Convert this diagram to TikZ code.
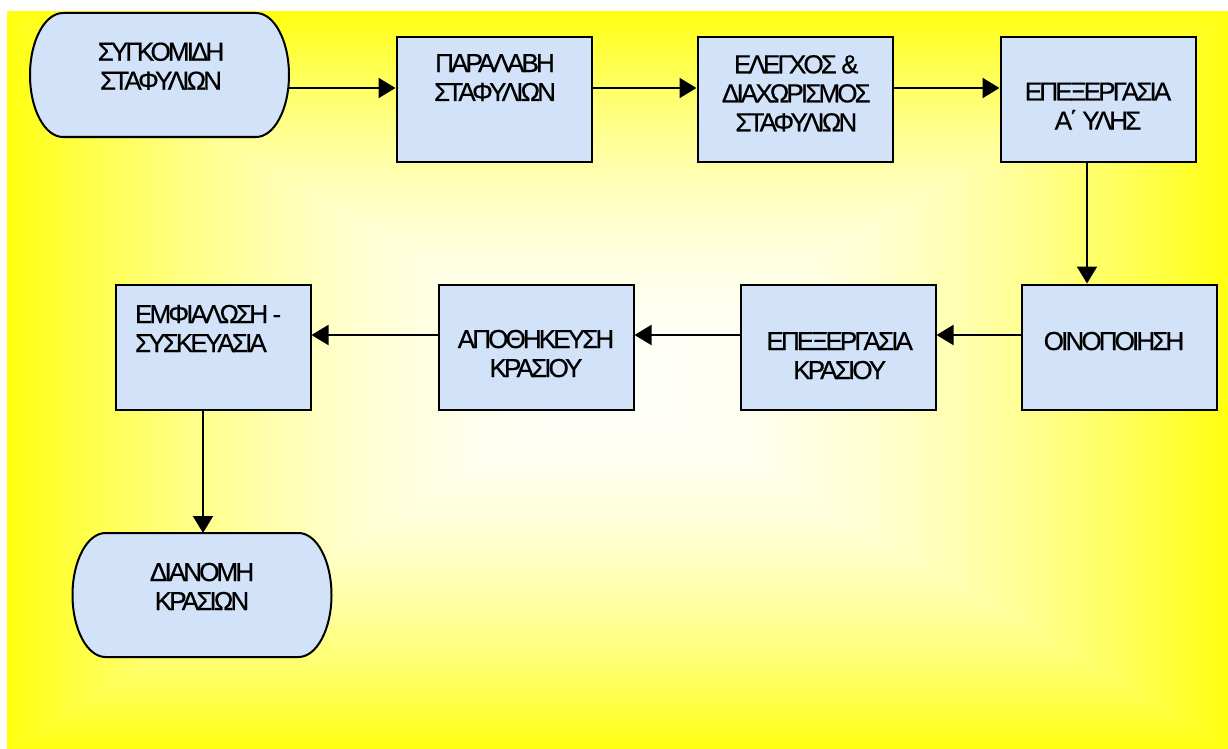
\documentclass[tikz,border=0pt]{standalone}
\usepackage{fontspec}
\newfontfamily\boxfont{Liberation Sans}[LetterSpace=-11,FakeBold=0.6]
\usetikzlibrary{arrows.meta,calc}

\pgfdeclarelayer{bg}
\pgfdeclarelayer{shapes}
\pgfsetlayers{bg,shapes,main}

\definecolor{boxblue}{RGB}{210,227,249}

% pale centre fading to strong yellow at the rectangle's border;
% the filled path covers the inner square -25bp..25bp of the shading
\pgfdeclarefunctionalshading{rectglow}{\pgfpoint{-50bp}{-50bp}}{\pgfpoint{50bp}{50bp}}{}{
  abs exch abs 2 copy lt {exch} if pop
  25 div dup 1 gt {pop 1} if
  dup mul 0.92 mul 0.98 exch sub
  1 1 3 -1 roll
}

% label of a box: #1 alignment (c or l), #2 horizontal shift,
% #3 height of the first baseline above the box centre, #4 lines
\newcommand\boxlabel[4][c]{\makebox[0pt][#1]{\hspace*{#2}\raisebox{#3}[0pt][0pt]{\begin{tabular}[t]{@{}#1@{}}#4\end{tabular}}}}

\begin{document}
\begin{tikzpicture}[x=1pt,y=-1pt,
  boxtext/.style={font=\boxfont\fontsize{26pt}{29pt}\selectfont},
  flowbox/.style={boxtext, draw, line width=2pt, fill=boxblue,
    minimum width=195pt, minimum height=125pt, inner sep=0pt},
  termbox/.style={boxtext, minimum width=259pt, minimum height=124pt,
    inner sep=0pt, outer sep=0pt},
  termline/.style={draw, line width=2pt, fill=boxblue},
  link/.style={line width=2pt, -{Triangle[length=17pt,width=20pt]}}]

\useasboundingbox (0,0) rectangle (1228,749);

\begin{pgfonlayer}{bg}
  \fill[white] (0,0) rectangle (1228,749);
  \shade[shading=rectglow] (7,12) rectangle (1228,749);
\end{pgfonlayer}

% process steps
\node[termbox] (harvest) at (159.5,75)  {\boxlabel{3pt}{14.3pt}{ΣΥΓΚΟΜΙΔΗ\\ΣΤΑΦΥΛΙΩΝ}};
\node[flowbox] (receive) at (494,99.5)  {\boxlabel{2pt}{27.5pt}{ΠΑΡΑΛΑΒΗ\\ΣΤΑΦΥΛΙΩΝ}};
\node[flowbox] (sort)    at (795,99.5)  {\boxlabel{2.6pt}{26.2pt}{ΕΛΕΓΧΟΣ \&\\ΔΙΑΧΩΡΙΣΜΟΣ\\ΣΤΑΦΥΛΙΩΝ}};
\node[flowbox] (prep)    at (1098,99.5) {\boxlabel{0pt}{-1pt}{ΕΠΕΞΕΡΓΑΣΙΑ\\Α΄ ΥΛΗΣ}};
\node[flowbox] (ferment) at (1119.5,347) {\boxlabel{-11pt}{-3pt}{ΟΙΝΟΠΟΙΗΣΗ}};
\node[flowbox] (treat)   at (838,347)   {\boxlabel{3.4pt}{-3pt}{ΕΠΕΞΕΡΓΑΣΙΑ\\ΚΡΑΣΙΟΥ}};
\node[flowbox] (store)   at (536,347)   {\boxlabel{0pt}{-1pt}{ΑΠΟΘΗΚΕΥΣΗ\\ΚΡΑΣΙΟΥ}};
\node[flowbox] (bottle)  at (213,347)   {\boxlabel[l]{-78pt}{24pt}{ΕΜΦΙΑΛΩΣΗ -\\ΣΥΣΚΕΥΑΣΙΑ}};
\node[termbox] (distrib) at (202,595)   {\boxlabel{0pt}{14pt}{ΔΙΑΝΟΜΗ\\ΚΡΑΣΙΩΝ}};

% terminator outlines with elliptical ends
\begin{pgfonlayer}{shapes}
  \foreach \t in {harvest,distrib}{
    \draw[termline] ($(\t.north west)+(33pt,0pt)$) -- ($(\t.north east)+(-33pt,0pt)$)
      arc[start angle=90,end angle=-90,x radius=33pt,y radius=62pt]
      -- ($(\t.south west)+(33pt,0pt)$)
      arc[start angle=270,end angle=90,x radius=33pt,y radius=62pt] -- cycle;
  }
\end{pgfonlayer}

% connector lanes
\coordinate (r1) at (0,88);
\coordinate (r2) at (0,335);
\coordinate (c1) at (1087,0);
\coordinate (c2) at (203,0);

\draw[link] (harvest.east |- r1) -- (receive.west |- r1);
\draw[link] (receive.east |- r1) -- (sort.west |- r1);
\draw[link] (sort.east |- r1) -- (prep.west |- r1);
\draw[link] (prep.south -| c1) -- (ferment.north -| c1);
\draw[link] (ferment.west |- r2) -- (treat.east |- r2);
\draw[link] (treat.west |- r2) -- (store.east |- r2);
\draw[link] (store.west |- r2) -- (bottle.east |- r2);
\draw[link] (bottle.south -| c2) -- (distrib.north -| c2);
\end{tikzpicture}
\end{document}
